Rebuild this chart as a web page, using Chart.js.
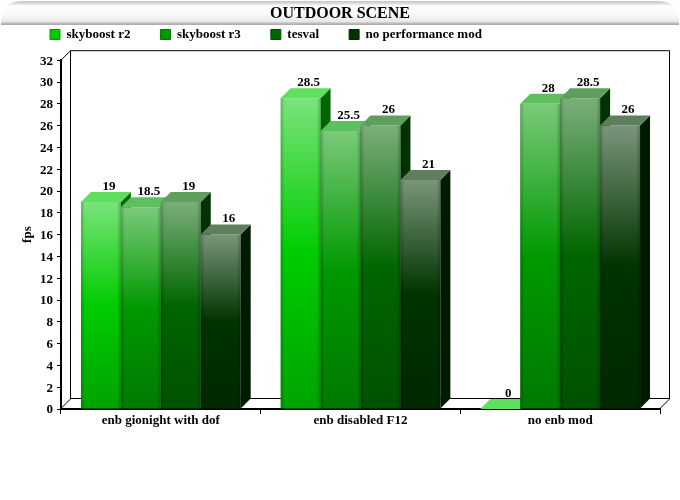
<!DOCTYPE html>
<html>
<head>
<meta charset="utf-8">
<style>html,body{margin:0;padding:0;background:#fff}canvas{display:block}</style>
<script src="https://cdn.jsdelivr.net/npm/chart.js@4"></script>
</head>
<body>
<div style="width:680px;height:500px"><canvas id="c" width="680" height="500"></canvas></div>
<script>
const categories = ['enb gionight with dof', 'enb disabled F12', 'no enb mod'];
const seriesNames = ['skyboost r2', 'skyboost r3', 'tesval', 'no performance mod'];
const skyboostR2 = [19, 28.5, 0];
const skyboostR3 = [18.5, 25.5, 28];
const tesval = [19, 26, 28.5];
const noPerformanceMod = [16, 21, 26];
const seriesColors = [[0,204,0],[0,153,0],[0,102,0],[0,51,0]];
const FONT = '"Liberation Serif", "Times New Roman", serif';
const DEPTH = 10;

const rgb = (c, k, w) => 'rgb(' + c.map(v => Math.round(v * k + (255 - v * k) * w)).join(',') + ')';
function frontFill(ctx, c) {
  const chart = ctx.chart;
  const y = chart.scales.y;
  if (!y || ctx.raw === undefined) return rgb(c, 1, 0);
  const top = y.getPixelForValue(ctx.raw), bottom = y.getPixelForValue(0);
  if (bottom - top < 1) return rgb(c, 1, 0);
  const g = chart.ctx.createLinearGradient(0, top, 0, bottom);
  g.addColorStop(0, rgb(c, 1, 0.48));
  g.addColorStop(0.5, rgb(c, 1, 0));
  g.addColorStop(1, rgb(c, 0.8, 0));
  return g;
}

const threeD = {
  id: 'threeD',
  afterLayout(chart) {
    chart.legend.top = 28 - chart.options.plugins.legend.labels.padding;
  },
  beforeDraw(chart) {
    const c = chart.ctx;
    c.save();
    c.fillStyle = '#fff';
    c.fillRect(0, 0, 680, 500);
    c.beginPath();
    c.moveTo(1, 25);
    c.lineTo(1, 20);
    c.quadraticCurveTo(3, 1, 22, 1);
    c.lineTo(658, 1);
    c.quadraticCurveTo(677, 1, 679, 20);
    c.lineTo(679, 25);
    c.closePath();
    const g = c.createLinearGradient(0, 1, 0, 25);
    g.addColorStop(0, '#c4c4c4');
    g.addColorStop(0.1, '#dcdcdc');
    g.addColorStop(0.2, '#fdfdfd');
    g.addColorStop(0.5, '#fbfbfb');
    g.addColorStop(0.85, '#e9e9e9');
    g.addColorStop(0.93, '#bcbcbc');
    g.addColorStop(1, '#a8a8a8');
    c.fillStyle = g;
    c.fill();
    c.restore();
  },
  beforeDatasetsDraw(chart) {
    const c = chart.ctx, a = chart.chartArea;
    c.save();
    c.strokeStyle = '#000';
    c.lineWidth = 1;
    c.beginPath();
    c.moveTo(a.left + DEPTH - 0.5, a.bottom - DEPTH);
    c.lineTo(a.left + DEPTH - 0.5, a.top - DEPTH + 0.5);
    c.lineTo(a.right + DEPTH - 0.5, a.top - DEPTH + 0.5);
    c.lineTo(a.right + DEPTH - 0.5, a.bottom - DEPTH - 0.5);
    c.lineTo(a.left + DEPTH - 0.5, a.bottom - DEPTH - 0.5);
    c.moveTo(a.left - 0.5, a.top + 0.5);
    c.lineTo(a.left + DEPTH - 0.5, a.top - DEPTH + 0.5);
    c.moveTo(a.left - 0.5, a.bottom);
    c.lineTo(a.left + DEPTH - 0.5, a.bottom - DEPTH);
    c.moveTo(a.right - 0.5, a.bottom);
    c.lineTo(a.right + DEPTH - 0.5, a.bottom - DEPTH);
    c.stroke();
    c.restore();
  },
  beforeDatasetDraw() { return false; },
  afterDatasetsDraw(chart) {
    const c = chart.ctx;
    chart.data.datasets.forEach((ds, i) => {
      const meta = chart.getDatasetMeta(i);
      meta.controller.draw();
      const col = seriesColors[i];
      c.save();
      meta.data.forEach(bar => {
        const l = bar.x - bar.width / 2, r = bar.x + bar.width / 2, t = bar.y, b = bar.base;
        if (b - t > 1) {
          let g = c.createLinearGradient(l, 0, l + 4, 0);
          g.addColorStop(0, 'rgba(0,0,0,0.22)');
          g.addColorStop(1, 'rgba(0,0,0,0)');
          c.fillStyle = g;
          c.fillRect(l, t, 4, b - t);
          g = c.createLinearGradient(r - 4, 0, r, 0);
          g.addColorStop(0, 'rgba(0,0,0,0)');
          g.addColorStop(1, 'rgba(0,0,0,0.22)');
          c.fillStyle = g;
          c.fillRect(r - 4, t, 4, b - t);
          c.fillStyle = rgb(col, 0.5, 0);
          c.beginPath();
          c.moveTo(r, t);
          c.lineTo(r + DEPTH, t - DEPTH);
          c.lineTo(r + DEPTH, b - DEPTH);
          c.lineTo(r, b);
          c.closePath();
          c.fill();
        }
        c.fillStyle = rgb(col, 1, 0.37);
        c.beginPath();
        c.moveTo(l, t);
        c.lineTo(l + DEPTH, t - DEPTH);
        c.lineTo(r + DEPTH, t - DEPTH);
        c.lineTo(r, t);
        c.closePath();
        c.fill();
      });
      c.restore();
    });
    c.save();
    c.font = 'bold 13px ' + FONT;
    c.fillStyle = '#000';
    c.textAlign = 'center';
    c.textBaseline = 'middle';
    chart.data.datasets.forEach((ds, i) => {
      chart.getDatasetMeta(i).data.forEach((bar, j) => {
        c.fillText(String(ds.data[j]), bar.x + 8, bar.y - 15.5);
      });
    });
    c.restore();
  }
};

const seriesValues = [skyboostR2, skyboostR3, tesval, noPerformanceMod];
new Chart(document.getElementById('c'), {
  type: 'bar',
  data: {
    labels: categories,
    datasets: seriesNames.map((name, i) => ({
      label: name,
      data: seriesValues[i],
      backgroundColor: ctx => frontFill(ctx, seriesColors[i]),
      borderWidth: 0,
      categoryPercentage: 0.8,
      barPercentage: 1
    }))
  },
  plugins: [threeD],
  options: {
    responsive: false,
    animation: false,
    layout: { padding: { left: 20, right: 20, top: 0, bottom: 0 } },
    plugins: {
      tooltip: { enabled: false },
      title: {
        display: true,
        text: 'OUTDOOR SCENE',
        color: '#000',
        font: { family: FONT, size: 16, weight: 'bold' },
        padding: { top: 4, bottom: -16 }
      },
      legend: {
        display: true,
        position: 'top',
        align: 'start',
        labels: {
          generateLabels: chart => seriesNames.map((name, i) => ({
            text: name,
            fillStyle: rgb(seriesColors[i], 1, 0),
            strokeStyle: rgb(seriesColors[i], 0.75, 0),
            lineWidth: 1,
            datasetIndex: i,
            fontColor: '#000'
          })),
          boxWidth: 10,
          boxHeight: 10,
          padding: 30,
          color: '#000',
          font: { family: FONT, size: 13, weight: 'bold' }
        }
      }
    },
    scales: {
      x: {
        afterFit: s => { s.height = 91; },
        grid: { drawOnChartArea: false, drawTicks: true, tickLength: 5, color: '#000', offset: true },
        border: { display: true, color: '#000', width: 2 },
        ticks: { color: '#000', padding: -1, maxRotation: 0, font: { family: FONT, size: 13, weight: 'bold' } }
      },
      y: {
        min: 0,
        max: 32,
        afterFit: s => { s.width = 41; },
        grid: { drawOnChartArea: false, drawTicks: true, tickLength: 4, color: '#000' },
        border: { display: true, color: '#000', width: 2 },
        ticks: { stepSize: 2, color: '#000', padding: 4, labelOffset: 1, font: { family: FONT, size: 13, weight: 'bold' } },
        title: { display: true, text: 'fps', color: '#000', padding: 0, font: { family: FONT, size: 13, weight: 'bold' } }
      }
    }
  }
});
</script>
</body>
</html>
